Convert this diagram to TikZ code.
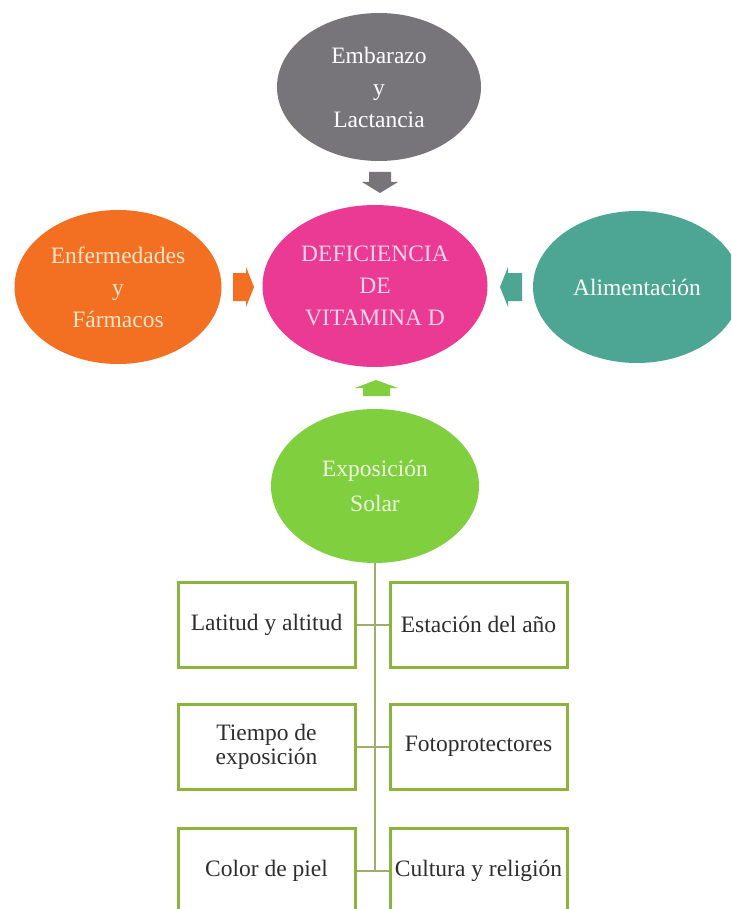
\documentclass[tikz,border=0pt]{standalone}
\usepackage{fontspec}
\setmainfont{Liberation Serif}
\usetikzlibrary{shapes.geometric}
\definecolor{grayc}{HTML}{77757A}
\definecolor{pinkc}{HTML}{EA3A94}
\definecolor{pinktext}{HTML}{F9D3E8}
\definecolor{orangec}{HTML}{F36F21}
\definecolor{orangetext}{HTML}{FCE6CC}
\definecolor{tealc}{HTML}{4DA593}
\definecolor{greenc}{HTML}{7FCF3F}
\definecolor{greentext}{HTML}{EEF8E0}
\definecolor{boxgreen}{HTML}{8CB43C}
\definecolor{linegreen}{HTML}{9DAF6B}
\definecolor{boxtext}{HTML}{2E2E2E}
\begin{document}
\begin{tikzpicture}[x=1pt,y=-1pt,
  oval/.style={ellipse, inner sep=0pt, align=center, text=white, font=\fontsize{23.5}{32}\selectfont},
  factor/.style={draw=boxgreen, line width=3pt, minimum width=177pt, minimum height=85pt, align=center, font=\fontsize{23.5}{24}\selectfont, text=boxtext, inner sep=0pt},
  link/.style={draw=linegreen, line width=2pt}]
\clip (0,0) rectangle (731,909);
\fill[white] (0,0) rectangle (731,909);

\node[oval, fill=grayc, minimum width=204pt, minimum height=148pt] (emb) at (379,87) {Embarazo\\y\\Lactancia};
\node[oval, fill=pinkc, text=pinktext, minimum width=225pt, minimum height=162pt] (def) at (375,286) {DEFICIENCIA\\DE\\VITAMINA D};
\node[oval, fill=orangec, text=orangetext, minimum width=207pt, minimum height=154pt] (enf) at (118,287) {Enfermedades\\y\\Fármacos};
\node[oval, fill=tealc, minimum width=208pt, minimum height=152pt] (ali) at (637,287) {Alimentación};
\node[oval, fill=greenc, text=greentext, minimum width=208pt, minimum height=154pt, font=\fontsize{23.5}{35}\selectfont] (exp) at (375,486) {Exposición\\Solar};

% block arrows
\fill[grayc] (380,193) -- (362,182) -- (369,182) -- (369,172) -- (391,172) -- (391,182) -- (398,182) -- cycle;
\fill[orangec] (254,287) -- (246,267) -- (246,273) -- (233,273) -- (233,301) -- (246,301) -- (246,307) -- cycle;
\fill[tealc] (500,287) -- (508,267) -- (508,273) -- (522,273) -- (522,301) -- (508,301) -- (508,307) -- cycle;
\fill[greenc] (376,380) -- (355,388) -- (363,388) -- (363,396) -- (390,396) -- (390,388) -- (398,388) -- cycle;

% factor boxes
\node[factor] (l1) at (266.5,624.5) {Latitud y altitud};
\node[factor] (r1) at (478.5,624.5) {Estación del año};
\node[factor] (l2) at (266.5,746.5) {Tiempo de\\exposición};
\node[factor] (r2) at (478.5,746.5) {Fotoprotectores};
\node[factor] (l3) at (266.5,870.5) {Color de piel};
\node[factor] (r3) at (478.5,870.5) {Cultura y religión};

\draw[link] (exp.south) -- (exp.south |- l3.east);
\draw[link] (l1.east) -- (r1.west);
\draw[link] (l2.east) -- (r2.west);
\draw[link] (l3.east) -- (r3.west);
\end{tikzpicture}
\end{document}
